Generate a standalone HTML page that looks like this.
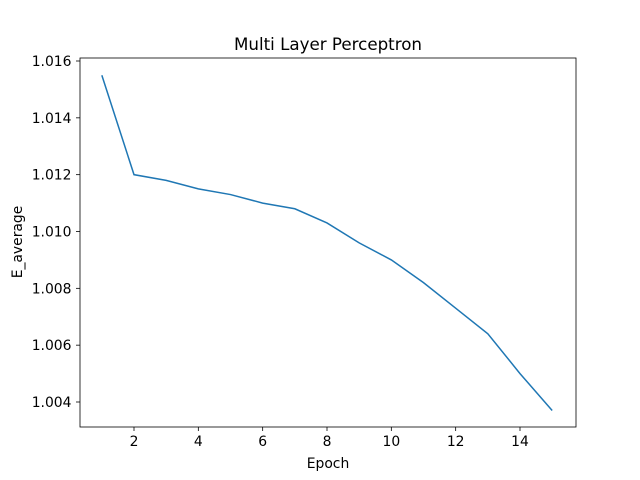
<!DOCTYPE html>
<html><head><meta charset="utf-8"><style>body{margin:0;background:#fff}svg{display:block;font-family:"DejaVu Sans","Liberation Sans",sans-serif}</style></head>
<body>
<svg id="chart" width="640" height="480">
<rect width="640" height="480" fill="#fff"/>
<text x="328" y="50" font-size="16.7" text-anchor="middle">Multi Layer Perceptron</text>
<g id="axes"></g>
<text x="328" y="468" font-size="13.9" text-anchor="middle">Epoch</text>
<text transform="translate(22,242) rotate(-90)" font-size="13.9" text-anchor="middle">E_average</text>
</svg>
<script>
const epochs=[1,2,3,4,5,6,7,8,9,10,11,12,13,14,15];
const eAverage=[1.0155,1.0120,1.0118,1.0115,1.0113,1.0110,1.0108,1.0103,1.0096,1.0090,1.0082,1.0073,1.0064,1.0050,1.0037];
const xTicks=[2,4,6,8,10,12,14];
const yTicks=[1.004,1.006,1.008,1.010,1.012,1.014,1.016];
const L=80,R=576,T=58,B=427;
const xs=v=>134+(v-2)*(520-134)/12;
const ys=v=>402-(v-1.004)*(402-61)/0.012;
const NS='http://www.w3.org/2000/svg';
const g=document.getElementById('axes');
function mk(t,a){const e=document.createElementNS(NS,t);for(const k in a)e.setAttribute(k,a[k]);g.appendChild(e);return e;}
xTicks.forEach(v=>{
 const t=mk('line',{x1:xs(v),x2:xs(v),y1:B,y2:B+4,stroke:'#000','stroke-width':0.8});
 
 
 const l=mk('text',{x:xs(v),y:B+19,'font-size':13.9,'text-anchor':'middle'});l.textContent=v;
 
 
});
yTicks.forEach(v=>{
 const t=mk('line',{x1:L-4,x2:L,y1:ys(v),y2:ys(v),stroke:'#000','stroke-width':0.8});
 
 
 const l=mk('text',{x:L-8.5,y:ys(v)+5,'font-size':13.9,'text-anchor':'end'});l.textContent=v.toFixed(3);
 
 
});
const p=mk('polyline',{points:epochs.map((e,i)=>xs(e)+','+ys(eAverage[i])).join(' '),fill:'none',stroke:'#1f77b4','stroke-width':1.5});


const f=mk('rect',{x:L,y:T,width:R-L,height:B-T,fill:'none',stroke:'#000','stroke-width':0.8});


</script>
</body></html>
